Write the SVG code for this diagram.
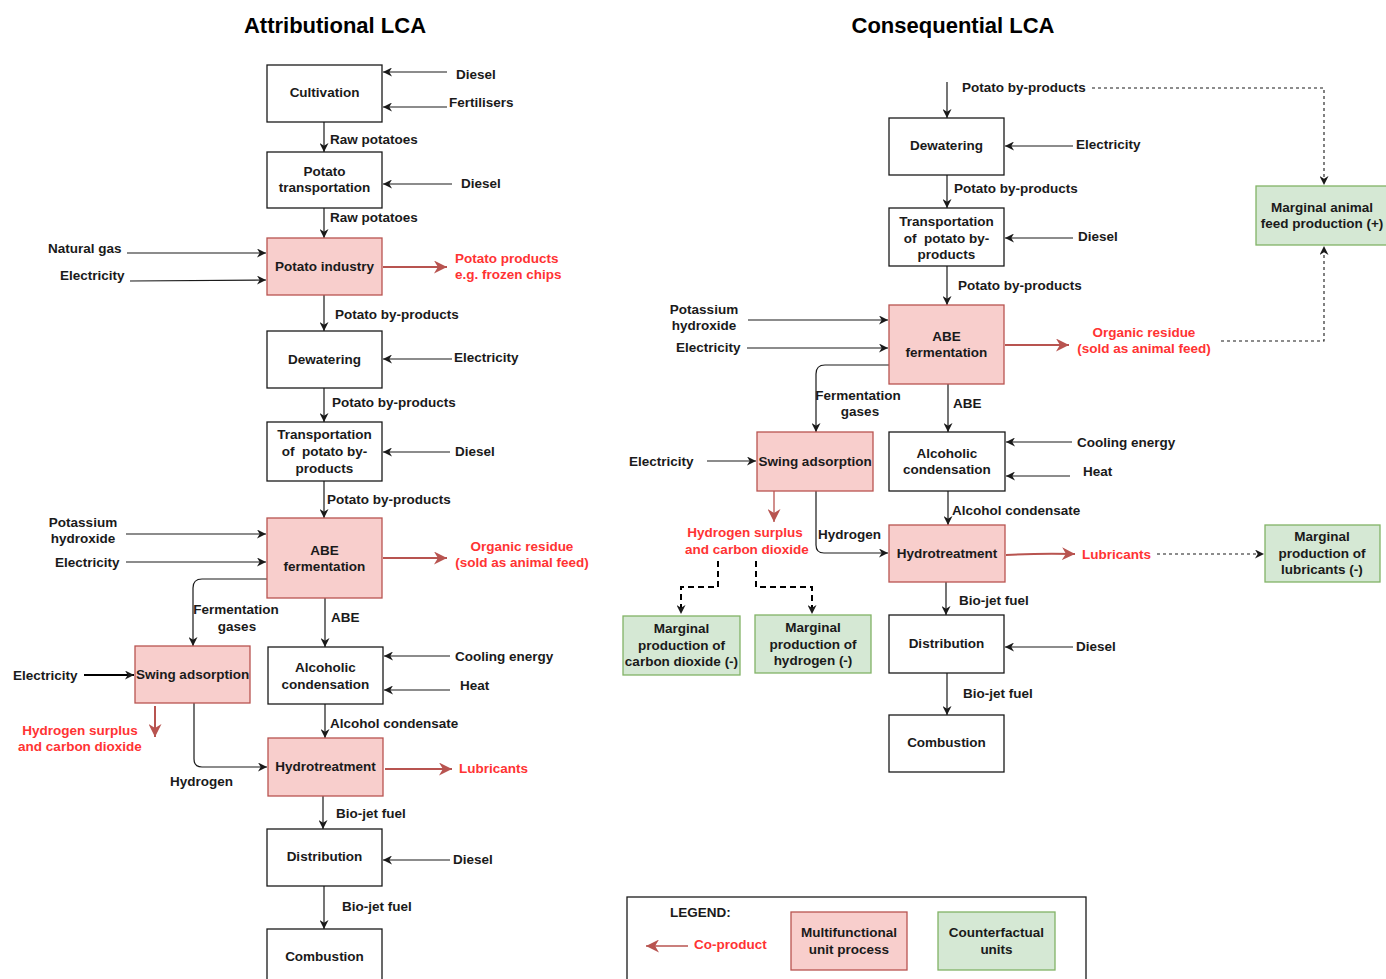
<svg xmlns="http://www.w3.org/2000/svg" width="1386" height="979" viewBox="0 0 1386 979">
<defs>
<style>
.t{font-family:"Liberation Sans",Arial,sans-serif;font-weight:bold;font-size:13.5px;fill:#1a1a1a}
.h{font-family:"Liberation Sans",Arial,sans-serif;font-weight:bold;font-size:22px;fill:#000;text-anchor:middle}
.r{fill:#ff3333}
.c{text-anchor:middle}
.b{fill:#fff;stroke:#1a1a1a;stroke-width:1.3}
.p{fill:#f8cecc;stroke:#b85450;stroke-width:1.3}
.g{fill:#d5e8d4;stroke:#82b366;stroke-width:1.3}
.e{stroke:#1a1a1a;stroke-width:1.2;fill:none;marker-end:url(#a)}
.k{stroke:#000;stroke-width:2.2;fill:none;marker-end:url(#a)}
.re{stroke:#b85450;stroke-width:2;fill:none;marker-end:url(#ar)}
.rt{stroke:#b85450;stroke-width:1.3;fill:none;marker-end:url(#ar)}
.d{stroke:#1a1a1a;stroke-width:1.1;fill:none;stroke-dasharray:3 3;marker-end:url(#a)}
.dd{stroke:#000;stroke-width:2;fill:none;stroke-dasharray:6 4;marker-end:url(#a)}
</style>
<marker id="a" viewBox="0 0 10 10" refX="10" refY="5" markerWidth="9" markerHeight="9" markerUnits="userSpaceOnUse" orient="auto"><path d="M0,0 L10,5 L0,10 L3,5 z" fill="#1a1a1a"/></marker>
<marker id="ar" viewBox="0 0 10 10" refX="10" refY="5" markerWidth="13" markerHeight="13" markerUnits="userSpaceOnUse" orient="auto"><path d="M0,0 L10,5 L0,10 L3,5 z" fill="#b85450"/></marker>
</defs>
<rect width="1386" height="979" fill="#fff"/>
<text class="h" x="335" y="33">Attributional LCA</text>
<text class="h" x="953" y="33">Consequential LCA</text>

<g id="connectors">
<line class="e" x1="447" y1="72" x2="383" y2="72"/>
<line class="e" x1="447" y1="107" x2="383" y2="107"/>
<line class="e" x1="324" y1="122" x2="324" y2="152"/>
<line class="e" x1="452" y1="184" x2="383" y2="184"/>
<line class="e" x1="324" y1="208" x2="324" y2="238"/>
<line class="e" x1="127" y1="253" x2="266" y2="253"/>
<line class="e" x1="130" y1="281" x2="266" y2="280"/>
<line class="re" x1="383" y1="267" x2="447" y2="267"/>
<line class="e" x1="324" y1="295" x2="324" y2="331"/>
<line class="e" x1="452" y1="359" x2="383" y2="359"/>
<line class="e" x1="324" y1="388" x2="324" y2="422"/>
<line class="e" x1="450" y1="452" x2="383" y2="452"/>
<line class="e" x1="324" y1="481" x2="324" y2="518"/>
<line class="e" x1="126" y1="534" x2="266" y2="534"/>
<line class="e" x1="126" y1="562" x2="266" y2="562"/>
<line class="re" x1="383" y1="558" x2="447" y2="558"/>
<path class="e" d="M267,579 H202 Q193,579 193,588 V646"/>
<line class="e" x1="325" y1="598" x2="325" y2="647"/>
<line class="k" x1="84" y1="675" x2="134" y2="675"/>
<line class="e" x1="450" y1="656" x2="384" y2="656"/>
<line class="e" x1="450" y1="690" x2="384" y2="690"/>
<line class="re" x1="155" y1="706" x2="155" y2="737"/>
<path class="e" d="M194,703 V759 Q194,767 202,767 H267"/>
<line class="e" x1="325" y1="704" x2="325" y2="738"/>
<line class="re" x1="385" y1="769" x2="452" y2="769"/>
<line class="e" x1="323" y1="796" x2="323" y2="829"/>
<line class="e" x1="450" y1="860" x2="383" y2="860"/>
<line class="e" x1="324" y1="886" x2="324" y2="929"/>
<line class="e" x1="947" y1="82" x2="947" y2="118"/>
<path class="d" d="M1092,88 H1324 V185"/>
<line class="e" x1="1073" y1="146" x2="1005" y2="146"/>
<line class="e" x1="947" y1="175" x2="947" y2="208"/>
<line class="e" x1="1073" y1="238" x2="1005" y2="238"/>
<line class="e" x1="947" y1="266" x2="947" y2="305"/>
<line class="e" x1="748" y1="320" x2="888" y2="320"/>
<line class="e" x1="747" y1="348" x2="888" y2="348"/>
<line class="re" x1="1005" y1="345" x2="1069" y2="345"/>
<path class="d" d="M1221,341 H1324 V246"/>
<path class="e" d="M889,365 H825 Q816,365 816,374 V432"/>
<line class="e" x1="948" y1="384" x2="948" y2="432"/>
<line class="e" x1="707" y1="461" x2="756" y2="461"/>
<line class="e" x1="1072" y1="442" x2="1006" y2="442"/>
<line class="e" x1="1070" y1="476" x2="1006" y2="476"/>
<line class="rt" x1="774" y1="491" x2="774" y2="522"/>
<path class="dd" d="M718,561 V587 H681 V614"/>
<path class="dd" d="M756,561 V587 H812 V614"/>
<path class="e" d="M816,491 V545 Q816,553 824,553 H888"/>
<line class="e" x1="948" y1="491" x2="948" y2="525"/>
<path class="re" d="M1006,555 Q1040,553 1075,554"/>
<line class="d" x1="1157" y1="554" x2="1264" y2="554"/>
<line class="e" x1="946" y1="582" x2="946" y2="615"/>
<line class="e" x1="1073" y1="647" x2="1005" y2="647"/>
<line class="e" x1="947" y1="673" x2="947" y2="715"/>
</g>

<g id="l-cultivation"><rect class="b" x="267" y="65" width="115" height="57"/><text class="t c" x="324.5" y="97">Cultivation</text></g>
<g id="l-transport"><rect class="b" x="267" y="152" width="115" height="56"/><text class="t c" x="324.5" y="176">Potato</text><text class="t c" x="324.5" y="192">transportation</text></g>
<g id="l-industry"><rect class="p" x="267" y="238" width="115" height="57"/><text class="t c" x="324.5" y="271">Potato industry</text></g>
<g id="l-dewatering"><rect class="b" x="267" y="331" width="115" height="57"/><text class="t c" x="324.5" y="364">Dewatering</text></g>
<g id="l-transport2"><rect class="b" x="267" y="422" width="115" height="59"/><text class="t c" x="324.5" y="439">Transportation</text><text class="t c" x="324.5" y="456">of &#160;potato by-</text><text class="t c" x="324.5" y="473">products</text></g>
<g id="l-abe"><rect class="p" x="267" y="518" width="115" height="80"/><text class="t c" x="324.5" y="555">ABE</text><text class="t c" x="324.5" y="571">fermentation</text></g>
<g id="l-swing"><rect class="p" x="135" y="646" width="115" height="57"/><text class="t c" x="192.5" y="679">Swing adsorption</text></g>
<g id="l-alcoholic"><rect class="b" x="268" y="647" width="115" height="57"/><text class="t c" x="325.5" y="672">Alcoholic</text><text class="t c" x="325.5" y="689">condensation</text></g>
<g id="l-hydro"><rect class="p" x="268" y="738" width="115" height="58"/><text class="t c" x="325.5" y="771">Hydrotreatment</text></g>
<g id="l-distribution"><rect class="b" x="267" y="829" width="115" height="57"/><text class="t c" x="324.5" y="861">Distribution</text></g>
<g id="l-combustion"><rect class="b" x="267" y="929" width="115" height="60"/><text class="t c" x="324.5" y="961">Combustion</text></g>

<g id="l-labels">
<text class="t" x="456" y="79">Diesel</text>
<text class="t" x="449" y="107">Fertilisers</text>
<text class="t" x="330" y="144">Raw potatoes</text>
<text class="t" x="461" y="188">Diesel</text>
<text class="t" x="330" y="222">Raw potatoes</text>
<text class="t" x="48" y="253">Natural gas</text>
<text class="t" x="60" y="280">Electricity</text>
<text class="t r" x="455" y="263">Potato products</text>
<text class="t r" x="455" y="279">e.g. frozen chips</text>
<text class="t" x="335" y="319">Potato by-products</text>
<text class="t" x="454" y="362">Electricity</text>
<text class="t" x="332" y="407">Potato by-products</text>
<text class="t" x="455" y="456">Diesel</text>
<text class="t" x="327" y="504">Potato by-products</text>
<text class="t c" x="83" y="527">Potassium</text>
<text class="t c" x="83" y="543">hydroxide</text>
<text class="t" x="55" y="567">Electricity</text>
<text class="t r c" x="522" y="551">Organic residue</text>
<text class="t r c" x="522" y="567">(sold as animal feed)</text>
<text class="t c" x="236" y="614">Fermentation</text>
<text class="t c" x="237" y="631">gases</text>
<text class="t" x="331" y="622">ABE</text>
<text class="t" x="13" y="680">Electricity</text>
<text class="t" x="455" y="661">Cooling energy</text>
<text class="t" x="460" y="690">Heat</text>
<text class="t r c" x="80" y="735">Hydrogen surplus</text>
<text class="t r c" x="80" y="751">and carbon dioxide</text>
<text class="t" x="170" y="786">Hydrogen</text>
<text class="t" x="330" y="728">Alcohol condensate</text>
<text class="t r" x="459" y="773">Lubricants</text>
<text class="t" x="336" y="818">Bio-jet fuel</text>
<text class="t" x="453" y="864">Diesel</text>
<text class="t" x="342" y="911">Bio-jet fuel</text>
</g>

<g id="r-dewatering"><rect class="b" x="889" y="118" width="115" height="57"/><text class="t c" x="946.5" y="150">Dewatering</text></g>
<g id="r-transport"><rect class="b" x="889" y="208" width="115" height="58"/><text class="t c" x="946.5" y="226">Transportation</text><text class="t c" x="946.5" y="243">of &#160;potato by-</text><text class="t c" x="946.5" y="259">products</text></g>
<g id="r-abe"><rect class="p" x="889" y="305" width="115" height="79"/><text class="t c" x="946.5" y="341">ABE</text><text class="t c" x="946.5" y="357">fermentation</text></g>
<g id="r-feed"><rect class="g" x="1256" y="186" width="135" height="59"/><text class="t c" x="1322" y="212">Marginal animal</text><text class="t c" x="1322" y="228">feed production (+)</text></g>
<g id="r-swing"><rect class="p" x="757" y="432" width="116" height="59"/><text class="t c" x="815" y="466">Swing adsorption</text></g>
<g id="r-alcoholic"><rect class="b" x="889" y="432" width="116" height="59"/><text class="t c" x="947" y="458">Alcoholic</text><text class="t c" x="947" y="474">condensation</text></g>
<g id="r-hydro"><rect class="p" x="889" y="525" width="116" height="57"/><text class="t c" x="947" y="558">Hydrotreatment</text></g>
<g id="r-lubricants"><rect class="g" x="1265" y="525" width="115" height="57"/><text class="t c" x="1322" y="541">Marginal</text><text class="t c" x="1322" y="558">production of</text><text class="t c" x="1322" y="574">lubricants (-)</text></g>
<g id="r-co2"><rect class="g" x="623" y="616" width="117" height="59"/><text class="t c" x="681.5" y="633">Marginal</text><text class="t c" x="681.5" y="650">production of</text><text class="t c" x="681.5" y="666">carbon dioxide (-)</text></g>
<g id="r-h2"><rect class="g" x="755" y="615" width="116" height="58"/><text class="t c" x="813" y="632">Marginal</text><text class="t c" x="813" y="649">production of</text><text class="t c" x="813" y="665">hydrogen (-)</text></g>
<g id="r-distribution"><rect class="b" x="889" y="615" width="115" height="58"/><text class="t c" x="946.5" y="648">Distribution</text></g>
<g id="r-combustion"><rect class="b" x="889" y="715" width="115" height="57"/><text class="t c" x="946.5" y="747">Combustion</text></g>

<g id="r-labels">
<text class="t" x="962" y="92">Potato by-products</text>
<text class="t" x="1076" y="149">Electricity</text>
<text class="t" x="954" y="193">Potato by-products</text>
<text class="t" x="1078" y="241">Diesel</text>
<text class="t" x="958" y="290">Potato by-products</text>
<text class="t c" x="704" y="314">Potassium</text>
<text class="t c" x="704" y="330">hydroxide</text>
<text class="t" x="676" y="352">Electricity</text>
<text class="t r c" x="1144" y="337">Organic residue</text>
<text class="t r c" x="1144" y="353">(sold as animal feed)</text>
<text class="t c" x="858" y="400">Fermentation</text>
<text class="t c" x="860" y="416">gases</text>
<text class="t" x="953" y="408">ABE</text>
<text class="t" x="629" y="466">Electricity</text>
<text class="t" x="1077" y="447">Cooling energy</text>
<text class="t" x="1083" y="476">Heat</text>
<text class="t r c" x="745" y="537">Hydrogen surplus</text>
<text class="t r c" x="747" y="554">and carbon dioxide</text>
<text class="t" x="818" y="539">Hydrogen</text>
<text class="t" x="952" y="515">Alcohol condensate</text>
<text class="t r" x="1082" y="559">Lubricants</text>
<text class="t" x="959" y="605">Bio-jet fuel</text>
<text class="t" x="1076" y="651">Diesel</text>
<text class="t" x="963" y="698">Bio-jet fuel</text>
</g>

<g id="legend">
<rect x="627" y="897" width="459" height="95" fill="#fff" stroke="#1a1a1a" stroke-width="1.3"/>
<text class="t" x="670" y="917">LEGEND:</text>
<line class="rt" x1="688" y1="946" x2="646" y2="946"/>
<text class="t r" x="694" y="949">Co-product</text>
<rect class="p" x="791" y="912" width="116" height="58"/>
<text class="t c" x="849" y="937">Multifunctional</text>
<text class="t c" x="849" y="954">unit process</text>
<rect class="g" x="938" y="912" width="117" height="58"/>
<text class="t c" x="996.5" y="937">Counterfactual</text>
<text class="t c" x="996.5" y="954">units</text>
</g>
</svg>
